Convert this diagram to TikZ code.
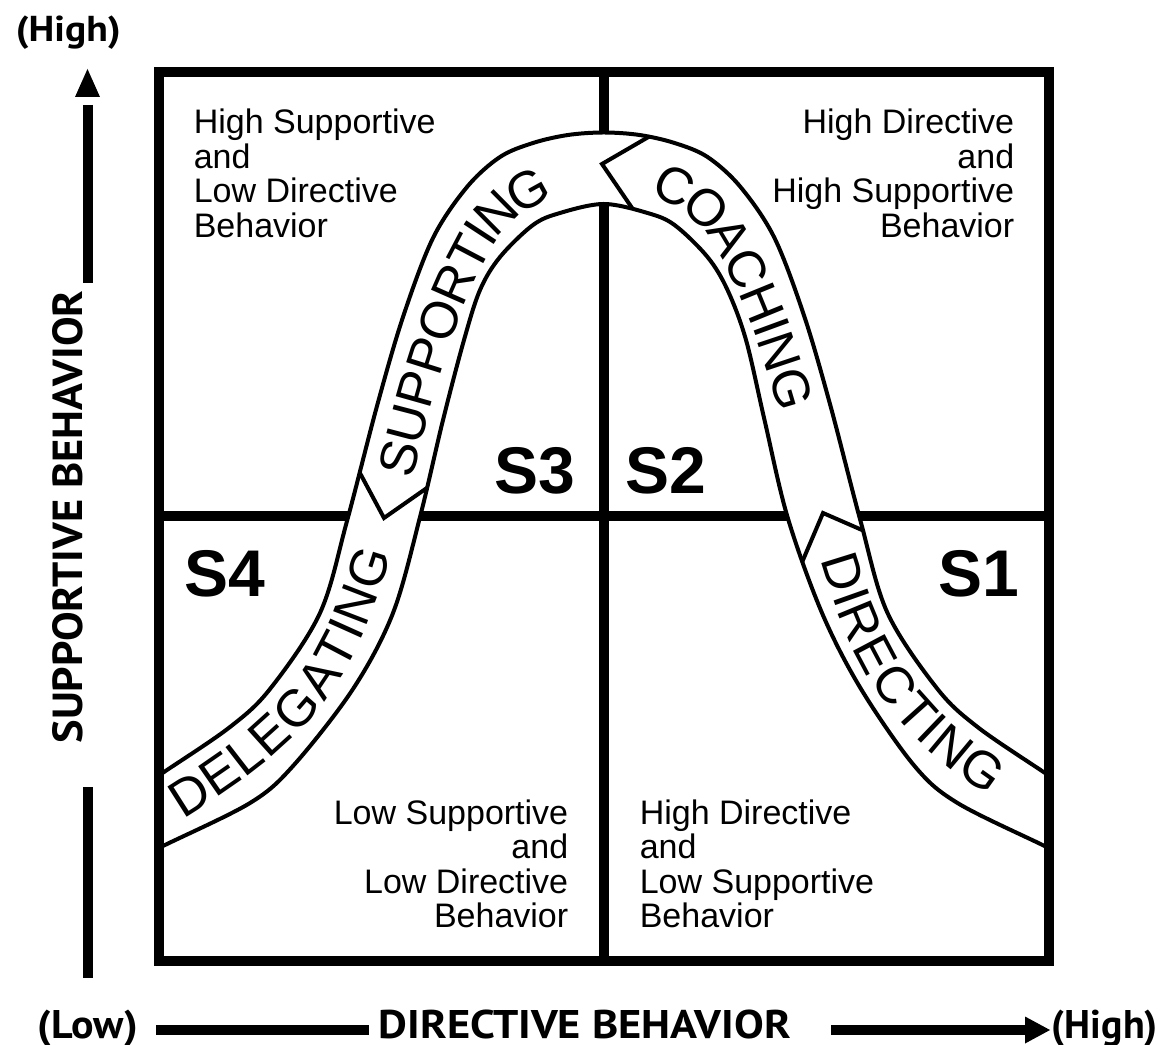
\documentclass[tikz,border=0pt]{standalone}
\usepackage{fontspec}
\setmainfont{Liberation Sans}
\newfontfamily\axisfont{PT Sans}
\newfontfamily\bandfamily{Liberation Sans}
\usetikzlibrary{decorations.text}
% the picture is drawn at 1/4 scale: 1 unit = 0.25pt (one reference pixel)
\newcommand\bandfont{\bandfamily\fontsize{13}{13}\selectfont}
\newcommand\axfont[1]{\axisfont\bfseries\fontsize{#1}{#1}\selectfont}
\begin{document}
\begin{tikzpicture}[x=0.25pt,y=-0.25pt,
  boxline/.style={line width=2.5pt},
  axisline/.style={line width=2.5pt},
  bandedge/.style={line width=1pt,fill=white},
  chev/.style={line width=1pt,line join=miter},
  qtext/.style={inner sep=0pt,font=\fontsize{8.5}{8.625}\selectfont},
  slabel/.style={inner sep=0pt,anchor=base west,font=\fontsize{16.5}{16.5}\selectfont\bfseries},
  axtext/.style={inner sep=0pt,anchor=base west},
  bandtext/.style 2 args={decorate,decoration={text along path,text={|\bandfont|#1},text align={left indent=#2},raise=-4.65pt}}
]
\useasboundingbox (0,0) rectangle (1163,1045);

% grid lines
\coordinate (TL) at (158.5,72);
\coordinate (BR) at (1049,961);
\coordinate (TM) at (603.75,72);
\coordinate (BM) at (603.75,961);
\coordinate (LM) at (158.5,516.5);
\coordinate (RM) at (1049,516.5);
\draw[boxline] (TM) -- (BM);
\draw[boxline] (LM) -- (RM);

% band
\begin{scope}
\clip (163.5,77) rectangle (1044,956);
\filldraw[bandedge]
  plot[smooth,tension=0.55] coordinates {(150,781) (167,770) (230,727) (270,689) (320,613) (347,521) (377,406) (403,317) (433,238) (467,187) (500,157) (533,143) (568,135) (603.75,132.5) (639.5,135) (674.5,143) (707.5,157) (740.5,187) (774.5,238) (804.5,317) (830.5,406) (860.5,521) (887.5,613) (937.5,689) (977.5,727) (1040.5,770) (1057.5,781)}
  -- plot[smooth,tension=0.55] coordinates {(1057.5,853) (1042.5,845) (957.5,803) (914.5,766) (861,689) (822,613) (787.5,517) (764.5,420) (746,340) (727.5,290) (707.5,257) (674.5,225) (647.5,213) (603.75,204) (560,213) (533,225) (500,257) (480,290) (464,340) (443,420) (420,517) (393,613) (353,689) (293,766) (250,803) (165,845) (150,853)}
  -- cycle;
\clip
  plot[smooth,tension=0.55] coordinates {(150,781) (167,770) (230,727) (270,689) (320,613) (347,521) (377,406) (403,317) (433,238) (467,187) (500,157) (533,143) (568,135) (603.75,132.5) (639.5,135) (674.5,143) (707.5,157) (740.5,187) (774.5,238) (804.5,317) (830.5,406) (860.5,521) (887.5,613) (937.5,689) (977.5,727) (1040.5,770) (1057.5,781)}
  -- plot[smooth,tension=0.55] coordinates {(1057.5,853) (1042.5,845) (957.5,803) (914.5,766) (861,689) (822,613) (787.5,517) (764.5,420) (746,340) (727.5,290) (707.5,257) (674.5,225) (647.5,213) (603.75,204) (560,213) (533,225) (500,257) (480,290) (464,340) (443,420) (420,517) (393,613) (353,689) (293,766) (250,803) (165,845) (150,853)}
  -- cycle;
% chevrons (arrow joints)
\coordinate (tipA) at (602,164);
\coordinate (upA) at (666.5,126.5);
\coordinate (loA) at (644,225.5);
\coordinate (tipB) at (384,518);
\coordinate (upB) at (349.5,453.5);
\coordinate (loB) at (444,476);
\coordinate (tipC) at (823,513);
\coordinate (upC) at (881.5,538.5);
\coordinate (loC) at (793,583.5);
\draw[chev] (upA) -- (tipA) -- (loA);
\draw[chev] (upB) -- (tipB) -- (loB);
\draw[chev] (upC) -- (tipC) -- (loC);
\end{scope}

% band words (paths follow the middle of the band)
\path[bandtext={DELEGATING}{1.75pt}] (167,807) .. controls (295.1,728.9) and (337.3,679.5) .. (378,535);
\path[bandtext={SUPPORTING}{2pt}] (392,483) .. controls (413.1,399.6) and (433.3,312.6) .. (476,238)
   .. controls (499.7,196.6) and (548.6,171.5) .. (598,169);
\path[bandtext={COACHING}{5.5pt}] (636,173) .. controls (673.8,178) and (712,203.9) .. (731.5,238)
   .. controls (774.2,312.6) and (796,399.6) .. (818,483);
\path[bandtext={DIRECTING}{5pt}] (833,535) .. controls (872,679.5) and (912.4,728.9) .. (1040.5,807);

% outer box
\draw[boxline] (TL) rectangle (BR);

% quadrant texts
\node[qtext,anchor=north west,align=left] (q2) at (193,108.5) {High Supportive\\and\\Low Directive\\Behavior};
\node[qtext,anchor=north east,align=right] (q1) at (1015,108.5) {High Directive\\and\\High Supportive\\Behavior};
\node[qtext,anchor=north east,align=right] (q3) at (569,798.7) {Low Supportive\\and\\Low Directive\\Behavior};
\node[qtext,anchor=north west,align=left] (q4) at (639,798.7) {High Directive\\and\\Low Supportive\\Behavior};

% style labels
\node[slabel] (s3) at (494,494) {S3};
\node[slabel] (s2) at (625,494) {S2};
\node[slabel] (s4) at (184,597) {S4};
\node[slabel] (s1) at (938,597) {S1};

% vertical axis
\coordinate (ya) at (88,105);
\coordinate (yb) at (88,283);
\coordinate (yc) at (88,787);
\coordinate (yd) at (88,978);
\fill (75,97) -- (100,97) -- (87.5,69) -- cycle;
\draw[axisline] (ya) -- (yb);
\draw[axisline] (yc) -- (yd);
\node[rotate=90,inner sep=0pt] (ylab) at (68,517) {\resizebox{113.25pt}{7.5pt}{\axfont{10.5}SUPPORTIVE BEHAVIOR}};
\node[axtext] (yhigh) at (15,42) {\resizebox{26.25pt}{\height}{\axfont{9}(High)}};

% horizontal axis
\coordinate (xa) at (156,1030);
\coordinate (xb) at (369,1030);
\coordinate (xc) at (831,1030);
\coordinate (xd) at (1027,1030);
\draw[axisline] (xa) -- (xb);
\draw[axisline] (xc) -- (xd);
\fill (1025,1016.5) -- (1050,1030) -- (1025,1043.5) -- cycle;
\node[axtext] (xlow) at (37,1038) {\resizebox{25pt}{\height}{\axfont{10}(Low)}};
\node[axtext] (xlab) at (378,1038) {\resizebox{103pt}{\height}{\axfont{10}DIRECTIVE BEHAVIOR}};
\node[axtext] (xhigh) at (1051,1038) {\resizebox{26.5pt}{\height}{\axfont{10}(High)}};
\end{tikzpicture}
\end{document}
